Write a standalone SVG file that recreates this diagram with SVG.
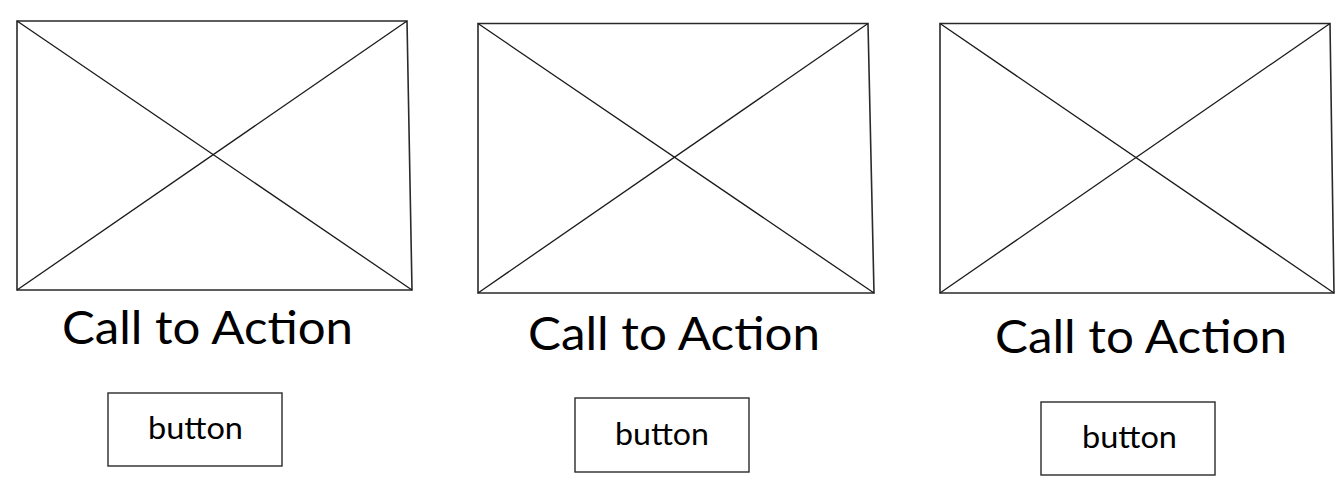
<svg xmlns="http://www.w3.org/2000/svg" width="1335" height="477" viewBox="0 0 1335 477">
<style>
.frame{fill:none;stroke:#2a2a2a;stroke-width:1.6;stroke-linejoin:miter}
.diag{fill:none;stroke:#1a1a1a;stroke-width:1.3}
.btn{fill:#fff;stroke:#2a2a2a;stroke-width:1.4}
.cta{font-family:"Lato","Liberation Sans",sans-serif;font-size:46px;fill:#000;text-anchor:middle}
.bt{font-family:"Lato","Liberation Sans",sans-serif;font-size:31px;fill:#000;text-anchor:middle}
</style>
<rect width="1335" height="477" fill="#fff"/>
<g id="card1">
<polygon class="frame" points="17,21 407,21 412,290 17,290"/>
<line class="diag" x1="17" y1="21" x2="412" y2="290"/>
<line class="diag" x1="407" y1="21" x2="17" y2="290"/>
<text class="cta" x="207.5" y="344" textLength="291" lengthAdjust="spacingAndGlyphs">Call to Action</text>
<rect class="btn" x="108" y="393" width="174" height="73"/>
<text class="bt" x="195.5" y="439" textLength="95" lengthAdjust="spacingAndGlyphs">button</text>
</g>
<g id="card2">
<polygon class="frame" points="478,23.5 868,23.5 874,293 478,293"/>
<line class="diag" x1="478" y1="23.5" x2="874" y2="293"/>
<line class="diag" x1="868" y1="23.5" x2="478" y2="293"/>
<text class="cta" x="674" y="350" textLength="292" lengthAdjust="spacingAndGlyphs">Call to Action</text>
<rect class="btn" x="575" y="398" width="174" height="74"/>
<text class="bt" x="662" y="445" textLength="94" lengthAdjust="spacingAndGlyphs">button</text>
</g>
<g id="card3">
<polygon class="frame" points="940,23.5 1330,23.5 1334,293 940,293"/>
<line class="diag" x1="940" y1="23.5" x2="1334" y2="293"/>
<line class="diag" x1="1330" y1="23.5" x2="940" y2="293"/>
<text class="cta" x="1141" y="353" textLength="292" lengthAdjust="spacingAndGlyphs">Call to Action</text>
<rect class="btn" x="1041" y="402" width="174" height="73"/>
<text class="bt" x="1129.5" y="448" textLength="95" lengthAdjust="spacingAndGlyphs">button</text>
</g>
<g id="connectors"></g>
</svg>
